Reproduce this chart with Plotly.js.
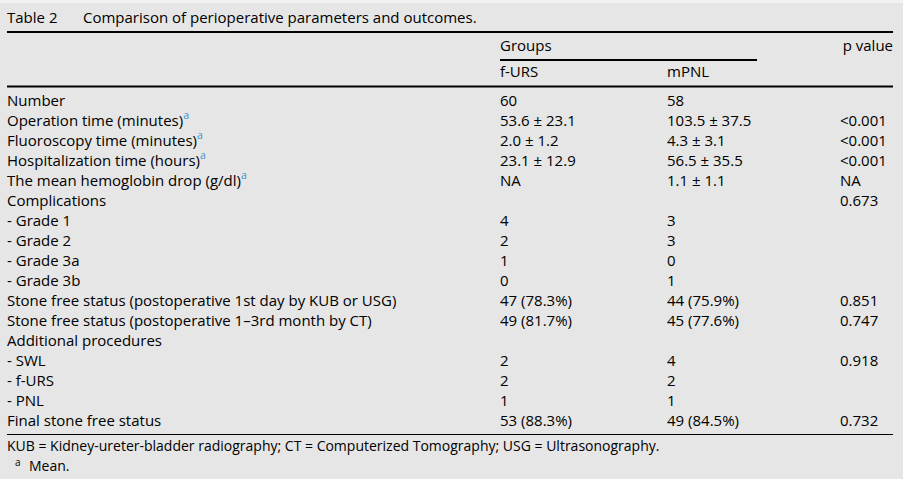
<!DOCTYPE html>
<html>
<head>
<meta charset="utf-8">
<script src="https://cdn.plot.ly/plotly-3.0.1.min.js"></script>
<style>html,body{margin:0;padding:0;background:#e6e6e6;}#chart{width:903px;height:479px;}</style>
</head>
<body>
<div id="chart"></div>
<script>
// ---- data ----
var tableTitle = "Table 2";
var tableCaption = "Comparison of perioperative parameters and outcomes.";
var groupHeader = "Groups";
var pHeader = "p value";
var groupNames = ["f-URS", "mPNL"];
var rowLabels = [
  "Number",
  "Operation time (minutes)",
  "Fluoroscopy time (minutes)",
  "Hospitalization time (hours)",
  "The mean hemoglobin drop (g/dl)",
  "Complications",
  "- Grade 1",
  "- Grade 2",
  "- Grade 3a",
  "- Grade 3b",
  "Stone free status (postoperative 1st day by KUB or USG)",
  "Stone free status (postoperative 1\u20133rd month by CT)",
  "Additional procedures",
  "- SWL",
  "- f-URS",
  "- PNL",
  "Final stone free status"
];
var meanFlag = [false, true, true, true, true, false, false, false, false, false, false, false, false, false, false, false, false];
var fursValues = ["60", "53.6 \u00b1 23.1", "2.0 \u00b1 1.2", "23.1 \u00b1 12.9", "NA", "", "4", "2", "1", "0", "47 (78.3%)", "49 (81.7%)", "", "2", "2", "1", "53 (88.3%)"];
var mpnlValues = ["58", "103.5 \u00b1 37.5", "4.3 \u00b1 3.1", "56.5 \u00b1 35.5", "1.1 \u00b1 1.1", "", "3", "3", "0", "1", "44 (75.9%)", "45 (77.6%)", "", "4", "2", "1", "49 (84.5%)"];
var pValues = ["", "<0.001", "<0.001", "<0.001", "NA", "0.673", "", "", "", "", "0.851", "0.747", "", "0.918", "", "", "0.732"];
var footnote1 = "KUB = Kidney-ureter-bladder radiography; CT = Computerized Tomography; USG = Ultrasonography.";
var footnoteMark = "a";
var footnote2 = "Mean.";

// ---- layout ----
var FONT = "Open Sans, sans-serif";
var FS = 15;
var INK = "#000000";
var SUPC = "#3f8fcf";
var rowY0 = 102, rowStep = 20;
var colLabel = 7, colA = 500, colB = 667, colP = 840, rightEdge = 893;

function esc(s){ return s.replace(/&/g,"&amp;").replace(/</g,"&lt;").replace(/>/g,"&gt;"); }

var ys = rowLabels.map(function(_, i){ return rowY0 + i * rowStep; });
var labelText = rowLabels.map(function(l, i){
  return esc(l) + (meanFlag[i] ? '<sup><span style="color:' + SUPC + '">a</span></sup>' : '');
});

function textTrace(xs, yv, txt, pos, size){
  var X = [], Y = [], T = [];
  for (var i = 0; i < txt.length; i++) {
    if (txt[i] !== "") { X.push(xs[i]); Y.push(yv[i]); T.push(txt[i]); }
  }
  return {
    type: "scatter", mode: "text", x: X, y: Y, text: T,
    textposition: pos || "middle right", hoverinfo: "skip", showlegend: false,
    textfont: {family: FONT, size: size || FS, color: INK}, cliponaxis: false
  };
}
function col(x){ return ys.map(function(){ return x; }); }

var traces = [
  textTrace(col(colLabel), ys, labelText),
  textTrace(col(colA), ys, fursValues.map(esc)),
  textTrace(col(colB), ys, mpnlValues.map(esc)),
  textTrace(col(colP), ys, pValues.map(esc)),
  // title
  textTrace([colLabel, 83], [19, 19], [tableTitle, tableCaption]),
  // header
  textTrace([colA], [47], [groupHeader]),
  textTrace([rightEdge], [47], [pHeader], "middle left"),
  textTrace([colA, colB], [73, 73], groupNames),
  // footnotes
  textTrace([colLabel], [447], [footnote1], "middle right", 14),
  textTrace([15], [463], [footnoteMark], "middle right", 10),
  textTrace([29], [467], [footnote2], "middle right", 14)
];

var shapes = [
  {type:"rect", xref:"x", yref:"y", x0:0, x1:903, y0:0, y1:3, fillcolor:"#f2f2f2", line:{width:0}, layer:"below"},
  {type:"line", xref:"x", yref:"y", x0:7, x1:rightEdge, y0:32, y1:32, line:{color:"#000", width:2}},
  {type:"line", xref:"x", yref:"y", x0:colA, x1:757, y0:60, y1:60, line:{color:"#000", width:2}},
  {type:"line", xref:"x", yref:"y", x0:7, x1:rightEdge, y0:86.5, y1:86.5, line:{color:"#000", width:2}},
  {type:"line", xref:"x", yref:"y", x0:7, x1:rightEdge, y0:434.5, y1:434.5, line:{color:"#000", width:1}}
];

var layout = {
  width: 903, height: 479,
  margin: {l:0, r:0, t:0, b:0, pad:0},
  paper_bgcolor: "#e6e6e6", plot_bgcolor: "#e6e6e6",
  xaxis: {range:[0, 903], visible:false, fixedrange:true},
  yaxis: {range:[479, 0], visible:false, fixedrange:true},
  shapes: shapes,
  showlegend: false
};

Plotly.newPlot("chart", traces, layout, {staticPlot:true, displayModeBar:false});
</script>
</body>
</html>
